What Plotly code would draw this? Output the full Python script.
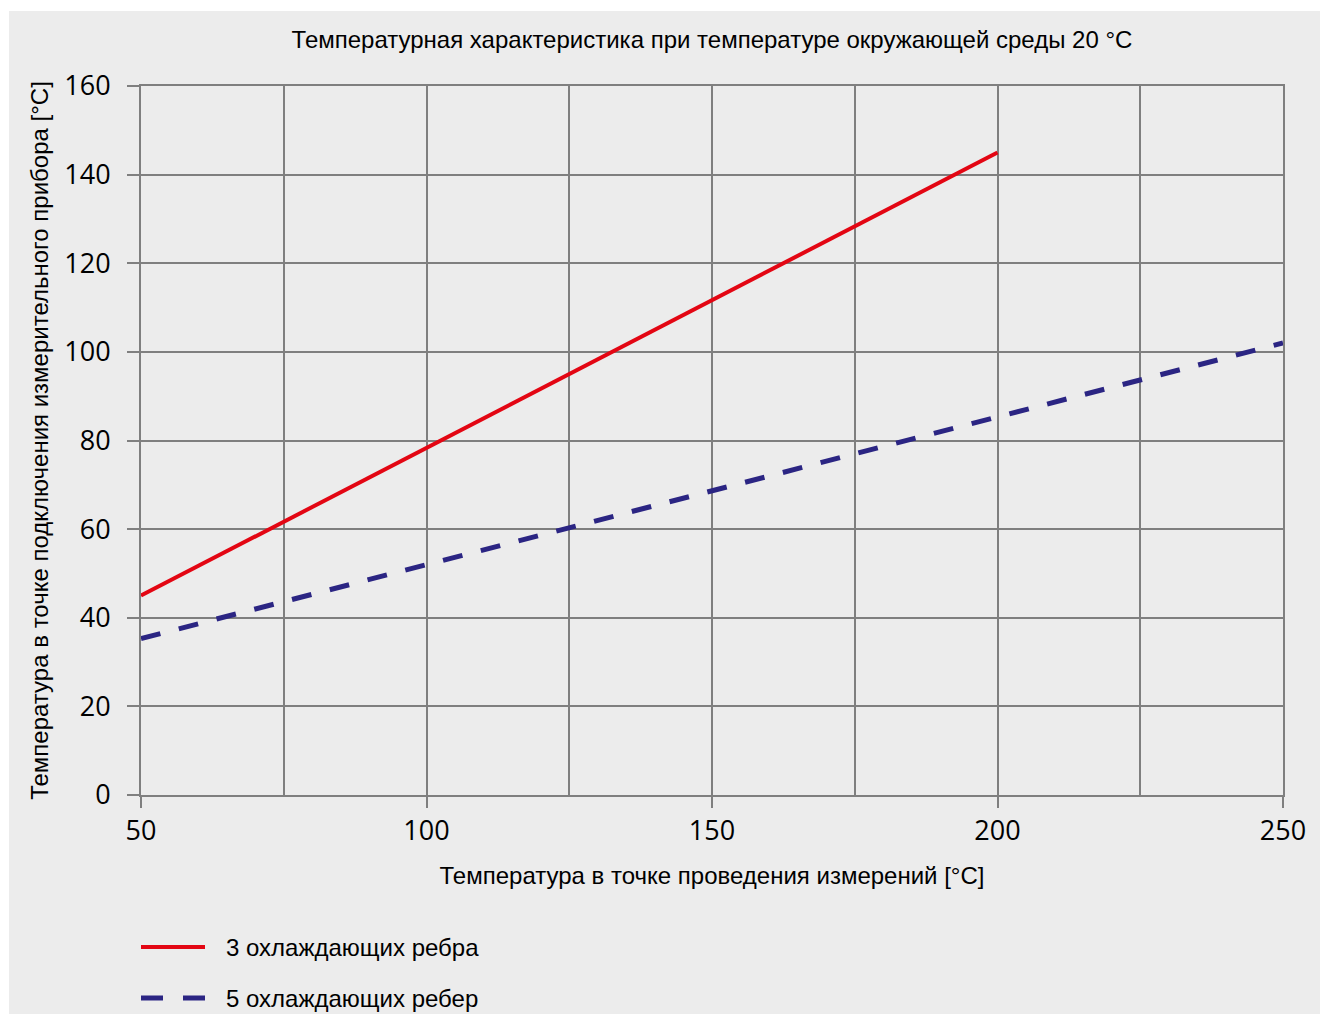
import plotly.graph_objects as go

# Data
x_vals = [50, 100, 150, 200, 250]
series_names = ["3 охлаждающих ребра", "5 охлаждающих ребер"]
red_x = [50, 100, 150, 200]
red_y = [45.0, 78.3, 111.7, 145.0]
blue_x = [50, 100, 150, 200, 250]
blue_y = [35.3, 52.0, 68.6, 85.3, 102.0]

title_text = "Температурная характеристика при температуре окружающей среды 20 °C"
x_title = "Температура в точке проведения измерений [°C]"
y_title = "Температура в точке подключения измерительного прибора [°C]"

RED = "#e30613"
BLUE = "#2b2583"
GRID = "#7f7f7f"
BG = "#ececec"
TXT = "Liberation Sans, Arial, sans-serif"
NUM = "Open Sans, sans-serif"
FS = 24

W, H = 1322, 1014
L, R, T, B = 141, 39, 86, 219
pw, ph = W - L - R, H - T - B

def px_x(p):
    return (p - L) / pw

def px_y(p):
    return (H - B - p) / ph

fig = go.Figure()
fig.add_trace(go.Scatter(x=red_x, y=red_y, mode="lines", name=series_names[0],
                         line=dict(color=RED, width=4), showlegend=False))
fig.add_trace(go.Scatter(x=blue_x, y=blue_y, mode="lines", name=series_names[1],
                         line=dict(color=BLUE, width=5, dash="20px,19px"), showlegend=False))

shapes = [
    dict(type="rect", xref="paper", yref="paper", x0=px_x(9), x1=px_x(1320),
         y0=px_y(1016), y1=px_y(11), fillcolor=BG, line=dict(width=0), layer="below"),
    dict(type="line", xref="paper", yref="paper", x0=px_x(141), x1=px_x(205),
         y0=px_y(947), y1=px_y(947), line=dict(color=RED, width=4)),
    dict(type="line", xref="paper", yref="paper", x0=px_x(141), x1=px_x(205),
         y0=px_y(998), y1=px_y(998), line=dict(color=BLUE, width=5, dash="22px,20px")),
]
annotations = [
    dict(xref="paper", yref="paper", x=px_x(224), y=px_y(947), xanchor="left", yanchor="middle",
         text=series_names[0], showarrow=False, font=dict(family=TXT, size=FS, color="#000")),
    dict(xref="paper", yref="paper", x=px_x(224), y=px_y(998), xanchor="left", yanchor="middle",
         text=series_names[1], showarrow=False, font=dict(family=TXT, size=FS, color="#000")),
]

fig.update_layout(
    width=W, height=H,
    margin=dict(l=L, r=R, t=T, b=B, autoexpand=False),
    paper_bgcolor="white", plot_bgcolor=BG,
    title=dict(text=title_text, x=0.5, xref="paper", y=1 - 40 / H, yref="container",
               xanchor="center", yanchor="middle",
               font=dict(family=TXT, size=FS, color="#000")),
    shapes=shapes, annotations=annotations,
    showlegend=False,
)
fig.update_xaxes(
    range=[50, 250], tickmode="array", tickvals=x_vals, ticktext=[str(v) for v in x_vals],
    ticks="outside", ticklen=11, tickwidth=2, tickcolor=GRID,
    showgrid=True, gridcolor=GRID, gridwidth=2,
    minor=dict(dtick=25, tick0=50, showgrid=True, gridcolor=GRID, gridwidth=2, ticks=""),
    showline=True, linecolor=GRID, linewidth=2, mirror=True, zeroline=False,
    tickfont=dict(family=NUM, size=27, color="#000"),
    title=dict(text=x_title, font=dict(family=TXT, size=FS, color="#000"), standoff=20),
    automargin=False,
)
fig.update_yaxes(
    range=[0, 160], dtick=20, tick0=0,
    ticks="outside", ticklen=12, tickwidth=2, tickcolor=GRID, ticklabelstandoff=11,
    showgrid=True, gridcolor=GRID, gridwidth=2,
    showline=True, linecolor=GRID, linewidth=2, mirror=True, zeroline=False,
    tickfont=dict(family=NUM, size=27, color="#000"),
    title=dict(text=y_title, font=dict(family=TXT, size=FS, color="#000"), standoff=9),
    automargin=False,
)

fig.write_html("out.html", config={"displayModeBar": False},
               post_script="document.body.style.margin='0';document.body.style.overflow='hidden';")
